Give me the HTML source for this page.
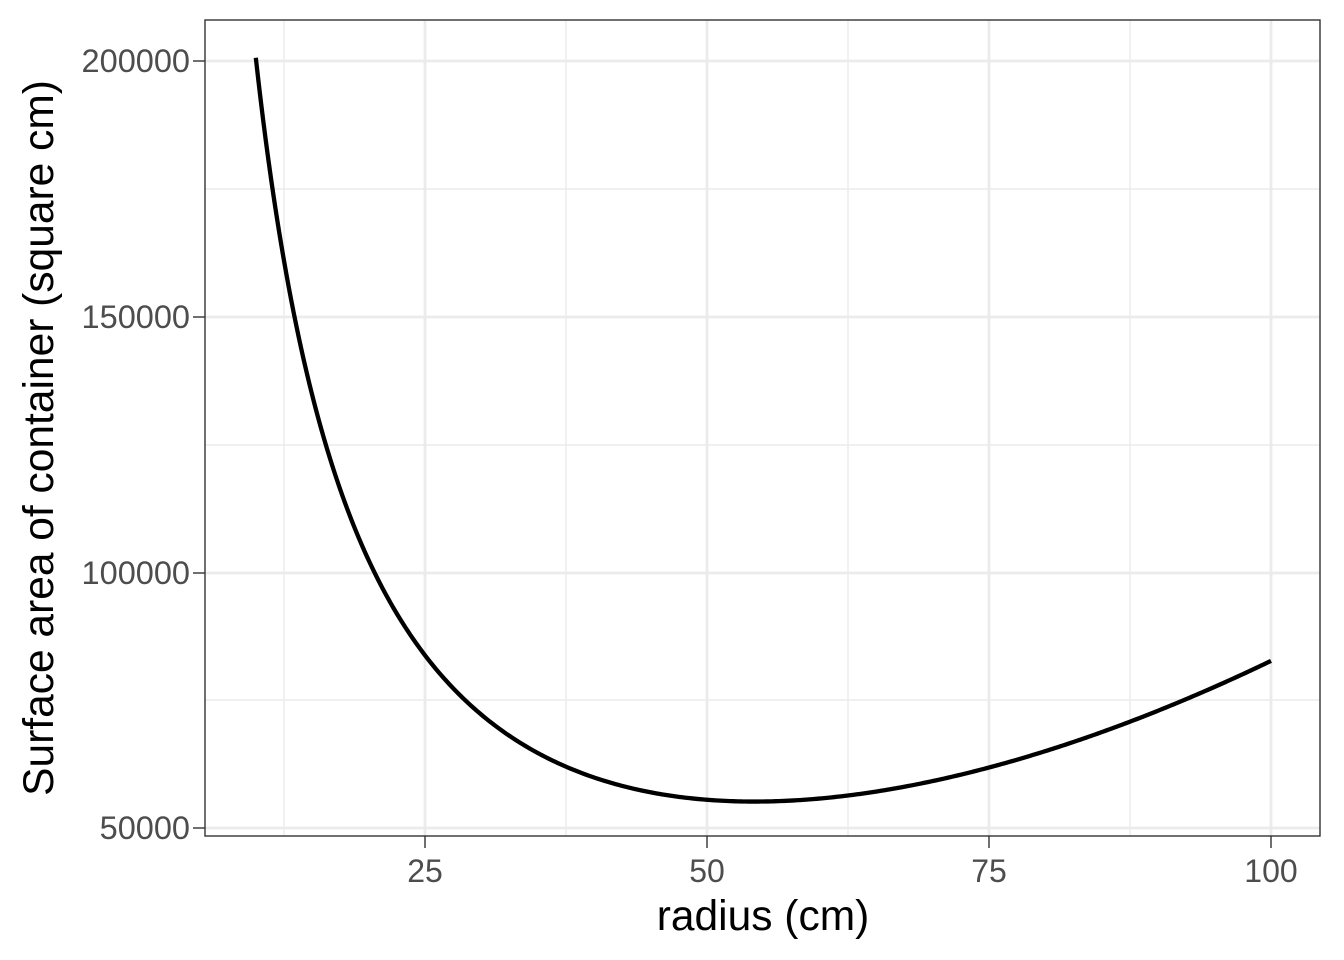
<!DOCTYPE html>
<html><head><meta charset="utf-8"><style>
html,body{margin:0;padding:0;background:#fff}
svg{display:block}
text{font-family:"Liberation Sans",Arial,sans-serif}
</style></head><body>
<svg id="s" width="1344" height="960" viewBox="0 0 1344 960" xmlns="http://www.w3.org/2000/svg">
<rect width="1344" height="960" fill="#fff"/>
<g stroke="#ebebeb" stroke-width="1.4">
<line x1="284" x2="284" y1="20" y2="836"/><line x1="566" x2="566" y1="20" y2="836"/>
<line x1="848" x2="848" y1="20" y2="836"/><line x1="1130" x2="1130" y1="20" y2="836"/>
<line x1="205" x2="1320" y1="189" y2="189"/><line x1="205" x2="1320" y1="445" y2="445"/>
<line x1="205" x2="1320" y1="700" y2="700"/>
</g>
<g stroke="#ebebeb" stroke-width="2.8">
<line x1="425" x2="425" y1="20" y2="836"/><line x1="707" x2="707" y1="20" y2="836"/>
<line x1="989" x2="989" y1="20" y2="836"/><line x1="1271" x2="1271" y1="20" y2="836"/>
<line x1="205" x2="1320" y1="61" y2="61"/><line x1="205" x2="1320" y1="317" y2="317"/>
<line x1="205" x2="1320" y1="573" y2="573"/><line x1="205" x2="1320" y1="828" y2="828"/>
</g>
<path id="curve" fill="none" stroke="#000" stroke-width="4.3" d=""/>
<rect x="205" y="20" width="1115" height="816" fill="none" stroke="#333" stroke-width="1.4"/>
<g stroke="#333" stroke-width="1.4">
<line x1="193" x2="205" y1="61" y2="61"/><line x1="193" x2="205" y1="317" y2="317"/>
<line x1="193" x2="205" y1="573" y2="573"/><line x1="193" x2="205" y1="828" y2="828"/>
<line x1="425" x2="425" y1="836" y2="848"/><line x1="707" x2="707" y1="836" y2="848"/>
<line x1="989" x2="989" y1="836" y2="848"/><line x1="1271" x2="1271" y1="836" y2="848"/>
</g>
<g fill="#4d4d4d" font-size="32.5" text-anchor="end">
<text x="190" y="72">200000</text><text x="190" y="328">150000</text>
<text x="190" y="584">100000</text><text x="190" y="839">50000</text>
</g>
<g fill="#4d4d4d" font-size="32" text-anchor="middle">
<text x="425" y="882">25</text><text x="707" y="882">50</text>
<text x="989" y="882">75</text><text x="1271" y="882">100</text>
</g>
<text x="763" y="930" font-size="42.5" text-anchor="middle" fill="#000">radius (cm)</text>
<text transform="translate(53,438) rotate(-90)" font-size="42.5" text-anchor="middle" fill="#000">Surface area of container (square cm)</text>
</svg>
<script>
var d="";for(var i=0;i<=400;i++){var r=10+90*i/400;var S=2*Math.PI*r*r+2e6/r;
var x=425+(r-25)*11.28;var y=61+(200000-S)*0.00512;d+=(i?"L":"M")+x.toFixed(2)+","+y.toFixed(2);}
document.getElementById("curve").setAttribute("d",d);
</script>
</body></html>
